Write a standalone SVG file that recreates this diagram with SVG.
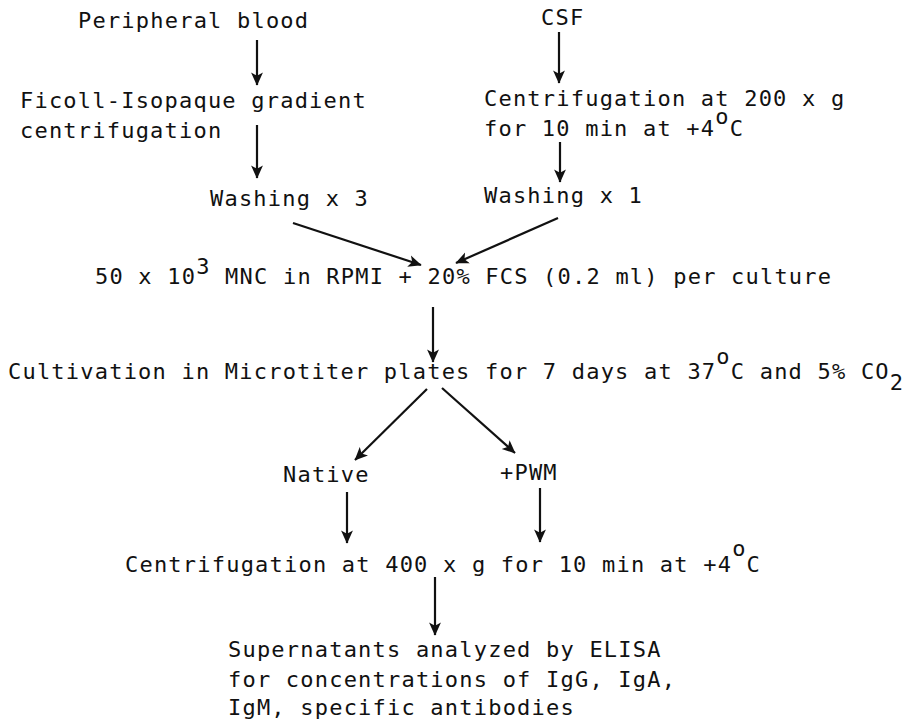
<svg xmlns="http://www.w3.org/2000/svg" width="909" height="725" viewBox="0 0 909 725">
<defs>
<style>
text{font-family:"DejaVu Sans Mono","Liberation Mono",monospace;font-size:22px;letter-spacing:1.21px;fill:#111;}
.c{stroke:#111;stroke-width:2.2;fill:none;marker-end:url(#ah);}
</style>
<marker id="ah" viewBox="0 0 10 10" refX="9.5" refY="5" markerWidth="6" markerHeight="6" orient="auto" markerUnits="strokeWidth">
<path d="M0,0.5 L10,5 L0,9.5 L2.5,5 z" fill="#111"/>
</marker>
</defs>
<rect width="909" height="725" fill="#fff"/>
<g id="connectors">
<line class="c" x1="257" y1="40" x2="257" y2="85"/>
<line class="c" x1="257" y1="125" x2="257" y2="178"/>
<line class="c" x1="559" y1="32" x2="559" y2="83"/>
<line class="c" x1="560" y1="142" x2="560" y2="182"/>
<line class="c" x1="293" y1="223" x2="421" y2="265"/>
<line class="c" x1="558" y1="218" x2="456" y2="263"/>
<line class="c" x1="433" y1="307" x2="433" y2="362"/>
<line class="c" x1="427" y1="389" x2="355" y2="460"/>
<line class="c" x1="442" y1="388" x2="515" y2="453"/>
<line class="c" x1="347" y1="492" x2="347" y2="543"/>
<line class="c" x1="540" y1="488" x2="540" y2="542"/>
<line class="c" x1="435" y1="577" x2="435" y2="635"/>
</g>
<g id="peripheral"><text x="78" y="28">Peripheral blood</text></g>
<g id="ficoll"><text x="20" y="108">Ficoll-Isopaque gradient</text><text x="20" y="138">centrifugation</text></g>
<g id="wash3"><text x="210" y="206">Washing x 3</text></g>
<g id="csf"><text x="541" y="25">CSF</text></g>
<g id="centrif200"><text x="484" y="106">Centrifugation at 200 x g</text><text x="484" y="136">for 10 min at +4<tspan dy="-12">o</tspan><tspan dy="12">C</tspan></text></g>
<g id="wash1"><text x="484" y="203">Washing x 1</text></g>
<g id="mnc"><text x="95" y="284">50 x 10<tspan dy="-10">3</tspan><tspan dy="10"> MNC in RPMI + 20% FCS (0.2 ml) per culture</tspan></text></g>
<g id="cultivation"><text x="8" y="379">Cultivation in Microtiter plates for 7 days at 37<tspan dy="-15">o</tspan><tspan dy="15">C and 5% CO</tspan><tspan dy="11">2</tspan></text></g>
<g id="native"><text x="283" y="482">Native</text></g>
<g id="pwm"><text x="500" y="480">+PWM</text></g>
<g id="centrif400"><text x="125" y="572">Centrifugation at 400 x g for 10 min at +4<tspan dy="-16">o</tspan><tspan dy="16">C</tspan></text></g>
<g id="supernatants"><text x="228" y="657">Supernatants analyzed by ELISA</text><text x="228" y="687">for concentrations of IgG, IgA,</text><text x="228" y="715">IgM, specific antibodies</text></g>
</svg>
